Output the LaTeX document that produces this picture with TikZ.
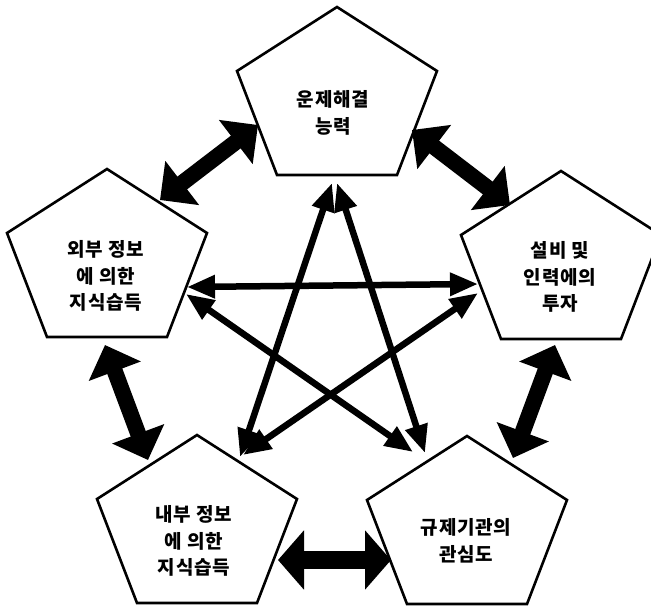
\documentclass[tikz,border=0pt]{standalone}
\usepackage{fontspec}
\usetikzlibrary{arrows.meta}
\newfontfamily\kr[LetterSpace=4]{Noto Sans CJK KR}
\tikzset{
  pentline/.style={draw=black, line width=2.6pt, line join=miter},
  label/.style={align=center, font=\kr\bfseries\fontsize{19}{26.5}\selectfont, inner sep=0pt},
  bigarrow/.style={line width=16pt, {Triangle[length=28pt,width=54pt]}-{Triangle[length=28pt,width=54pt]}},
  bottomarrow/.style={line width=18pt, {Triangle[length=26pt,width=58pt]}-{Triangle[length=26pt,width=58pt]}},
  thinarrow/.style={line width=6.5pt, {Triangle[length=28pt,width=22pt]}-{Triangle[length=28pt,width=22pt]}},
}
\newcommand{\pentagon}[2]{%
  \draw[pentline] (#1,#2) -- ++(100,64) -- ++(-40,104) -- ++(-120,0) -- ++(-40,-104) -- cycle;}
\begin{document}
\begin{tikzpicture}[x=1pt,y=-1pt]
\useasboundingbox (0,0) rectangle (651,606);
\fill[white] (0,0) rectangle (651,606);
% pentagons
\pentagon{337}{7}
\pentagon{107}{169}
\pentagon{561}{171}
\pentagon{197}{435}
\pentagon{467}{436}
% labels
\node[label] (top) at (333,113) {운제해결\\능력};
\node[label] (left) at (106,276) {외부 정보\\에 의한\\지식습득};
\node[label] (right) at (560,277) {설비 및\\인력에의\\투자};
\node[label] (bl) at (194,541) {내부 정보\\에 의한\\지식습득};
\node[label] (br) at (466,541) {규제기관의\\관심도};
% outer arrow ends
\coordinate (tl1) at (160,200); \coordinate (tl2) at (258,125);
\coordinate (tr1) at (412,130); \coordinate (tr2) at (510,205);
\coordinate (lb1) at (105,345); \coordinate (lb2) at (148,460);
\coordinate (rb1) at (555,345); \coordinate (rb2) at (513,458);
\coordinate (bb1) at (278,560); \coordinate (bb2) at (391,560);
% star arrow ends
\coordinate (tA) at (332,183); \coordinate (bA) at (240,457);
\coordinate (tB) at (337,183); \coordinate (bB) at (425,453);
\coordinate (lA) at (187,287); \coordinate (rA) at (478,284);
\coordinate (lB) at (186,294); \coordinate (bC) at (413,452);
\coordinate (rB) at (478,293); \coordinate (bD) at (243,455);
% outer arrows
\draw[bigarrow] (tl1) -- (tl2);
\draw[bigarrow] (tr1) -- (tr2);
\draw[bigarrow] (lb1) -- (lb2);
\draw[bigarrow] (rb1) -- (rb2);
\draw[bottomarrow] (bb1) -- (bb2);
% star arrows
\draw[thinarrow] (tA) -- (bA);
\draw[thinarrow] (tB) -- (bB);
\draw[thinarrow] (lA) -- (rA);
\draw[thinarrow] (lB) -- (bC);
\draw[thinarrow] (rB) -- (bD);
\end{tikzpicture}
\end{document}
